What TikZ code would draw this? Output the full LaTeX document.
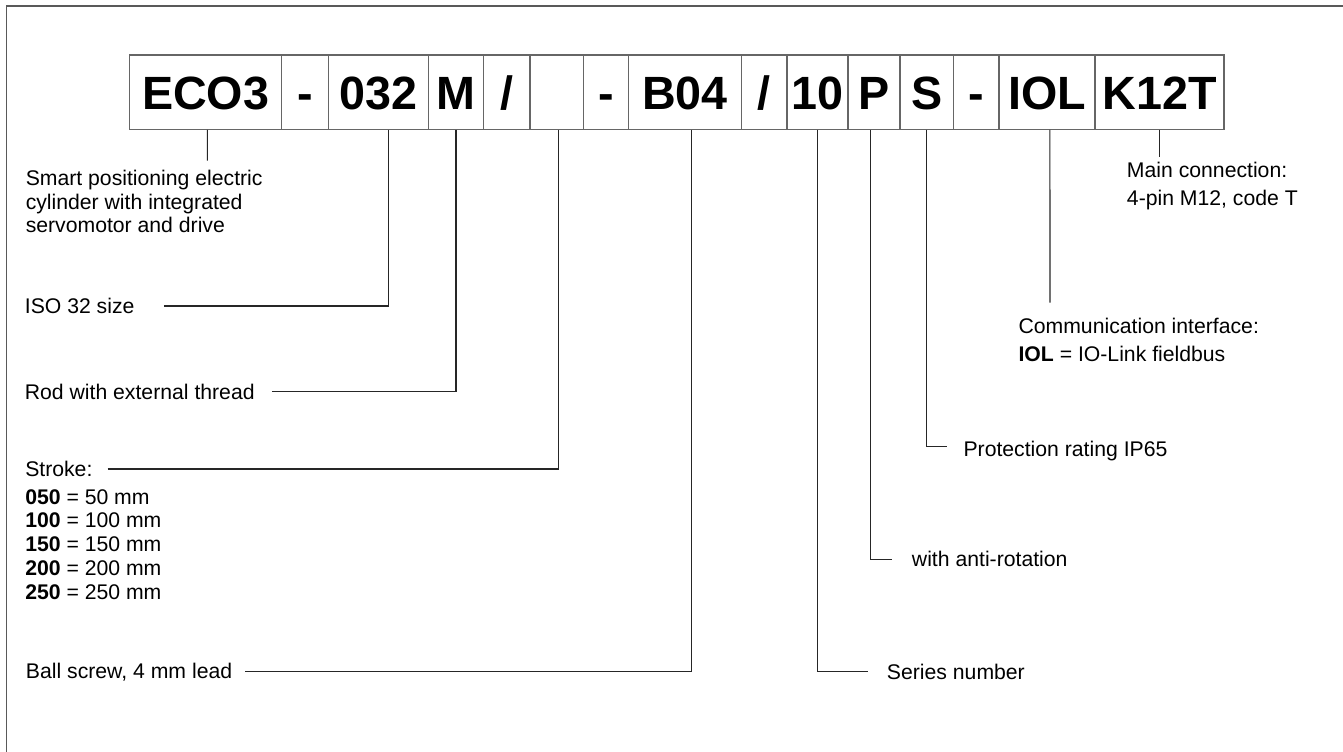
\documentclass[tikz,border=0pt]{standalone}
\usepackage{fontspec}
\setmainfont{Liberation Sans}
\begin{document}
\begin{tikzpicture}[x=0.75pt,y=-0.75pt,
    cell/.style={draw=black!60,line width=0.9pt,minimum height=55.7pt,inner sep=0pt,
      text height=25.3pt,text depth=0pt,font=\fontsize{35}{40}\selectfont\bfseries},
    txt/.style={anchor=west,inner sep=0pt,align=left,font=\fontsize{15.9}{17.6}\selectfont},
    txtwide/.style={txt,font=\fontsize{15.9}{20.6}\selectfont},
    lead/.style={line width=0.8pt,black!85}]
  \useasboundingbox (0,0) rectangle (1343,752);
  \draw[line width=1.4pt,black!65] (6.5,752) -- (6.5,5.7) -- (1343,5.7);
  % order code
  \node[cell,minimum width=114.2pt] (eco) at (205.6,92.2) {ECO3};
  \node[cell,minimum width=34.9pt] (dasha) at (305,92.2) {-};
  \node[cell,minimum width=75.3pt] (size) at (378.4,92.2) {032};
  \node[cell,minimum width=41.2pt] (rod) at (456,92.2) {M};
  \node[cell,minimum width=34.8pt] (slasha) at (506.7,92.2) {/};
  \node[cell,minimum width=40.2pt] (stroke) at (556.7,92.2) {};
  \node[cell,minimum width=33.8pt] (dashb) at (606,92.2) {-};
  \node[cell,minimum width=84.7pt] (screw) at (685,92.2) {B04};
  \node[cell,minimum width=34.1pt] (slashb) at (764.2,92.2) {/};
  \node[cell,minimum width=45.8pt] (series) at (817.5,92.2) {10};
  \node[cell,minimum width=39.1pt] (anti) at (874,92.2) {P};
  \node[cell,minimum width=39.8pt] (prot) at (926.6,92.2) {S};
  \node[cell,minimum width=34.5pt] (dashc) at (976.1,92.2) {-};
  \node[cell,minimum width=72pt] (iol) at (1047,92.2) {IOL};
  \node[cell,minimum width=96.8pt] (conn) at (1159.5,92.2) {K12T};
  % descriptions
  \node[txt] (smarttxt) at (25.5,201.7) {Smart positioning electric\\cylinder with integrated\\servomotor and drive};
  \node[txt] (isotxt) at (24.6,306) {ISO 32 size};
  \node[txt] (rodtxt) at (24.6,391.7) {Rod with external thread};
  \node[txt] (stroketxt) at (25,469) {Stroke:};
  \node[txt,font=\fontsize{15.9}{17.8}\selectfont] (listtxt) at (25,544.3)
    {\textbf{050} = 50 mm\\\textbf{100} = 100 mm\\\textbf{150} = 150 mm\\\textbf{200} = 200 mm\\\textbf{250} = 250 mm};
  \node[txt] (balltxt) at (25.7,671.7) {Ball screw, 4 mm lead};
  \node[txt] (sertxt) at (886.7,671.7) {Series number};
  \node[txt] (antitxt) at (911.7,559.3) {with anti-rotation};
  \node[txt] (prottxt) at (963.3,451.5) {Protection rating IP65};
  \node[txtwide] (iotxt) at (1018.3,339.7) {Communication interface:\\\textbf{IOL} = IO-Link fieldbus};
  \node[txtwide] (conntxt) at (1126.7,186.2) {Main connection:\\4-pin M12, code T};
  \coordinate (ecoend) at (207.3,160.7);
  \coordinate (iolend) at (1050,302.7);
  \coordinate (connend) at (1159.5,156.7);
  % leaders
  \draw[lead] ([xshift=1.3pt]eco.south) -- (ecoend);
  \draw[lead] ([xshift=21.8pt]isotxt.east) -| ([xshift=7.6pt]size.south);
  \draw[lead] ([xshift=12.8pt]rodtxt.east) -| (rod.south);
  \draw[lead] ([xshift=11.2pt]stroketxt.east) -| ([xshift=1pt]stroke.south);
  \draw[lead] ([xshift=9.8pt]balltxt.east) -| ([xshift=4.6pt]screw.south);
  \draw[lead] (series.south) |- ([xshift=-13.8pt]sertxt.west);
  \draw[lead] ([xshift=-2.5pt]anti.south) |- ([xshift=-14.5pt]antitxt.west);
  \draw[lead] (prot.south) |- ([xshift=-12.5pt,yshift=4pt]prottxt.west);
  \draw[lead] ([xshift=2.2pt]iol.south) -- (iolend);
  \draw[lead] (conn.south) -- (connend);
\end{tikzpicture}
\end{document}
